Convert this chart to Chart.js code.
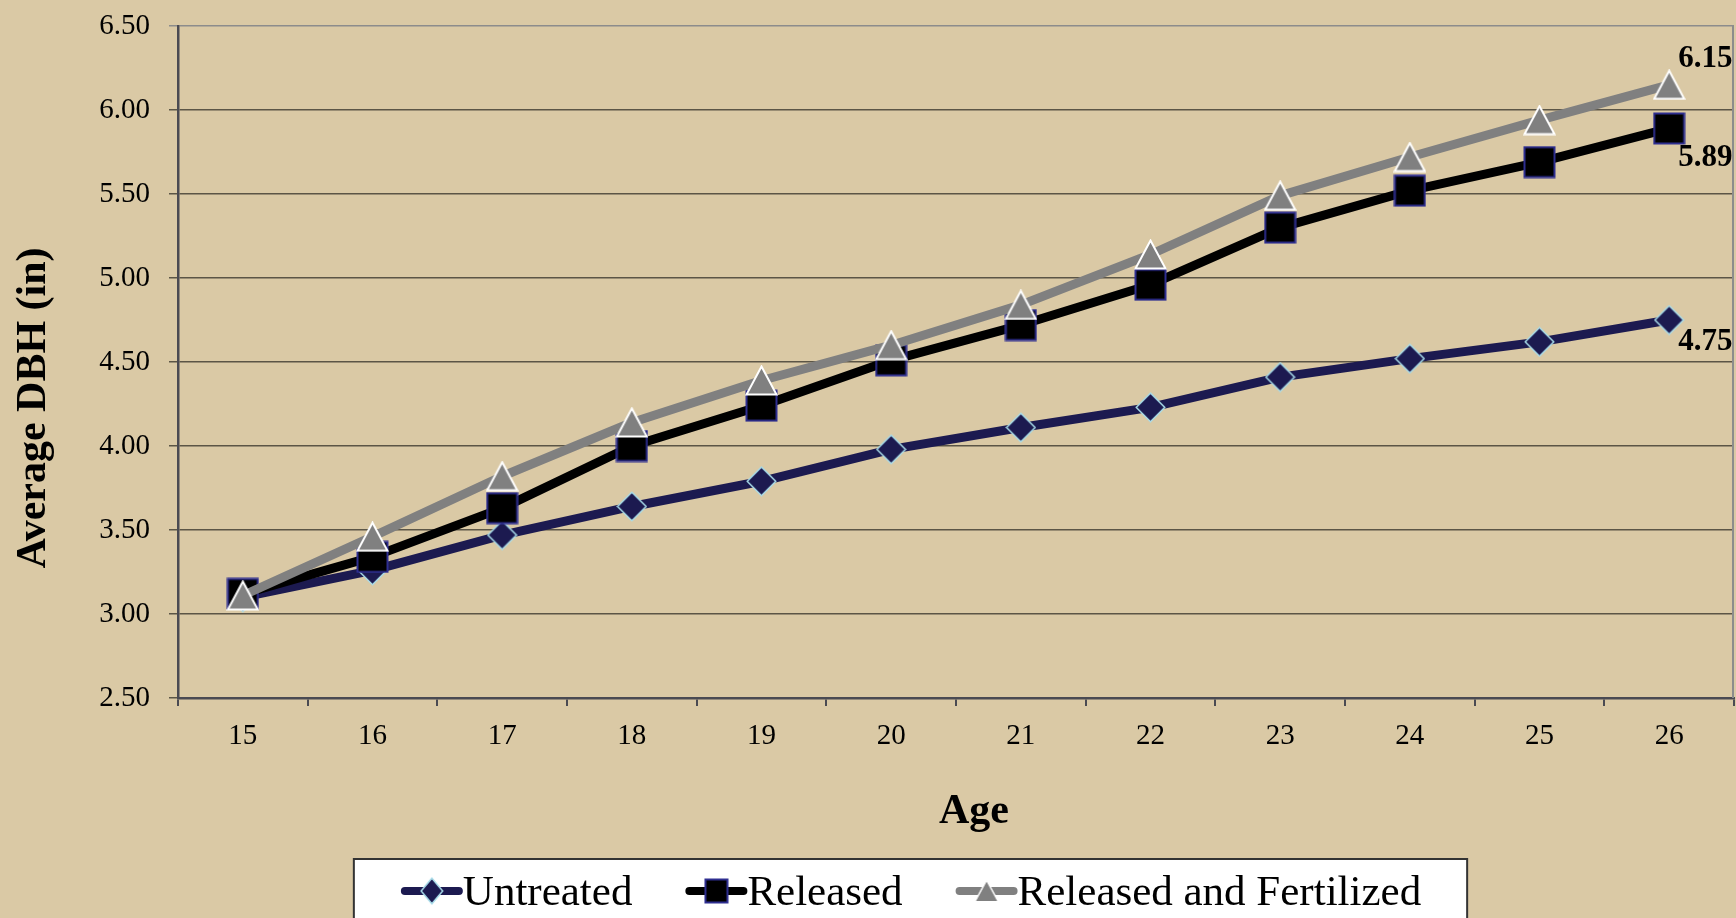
<!DOCTYPE html>
<html>
<head>
<meta charset="utf-8">
<title>Average DBH by Age</title>
<script src="https://cdn.jsdelivr.net/npm/chart.js@4/dist/chart.umd.min.js"></script>
<style>
  html, body { margin: 0; padding: 0; background: #dac9a5; }
  #wrap { width: 1736px; height: 918px; }
</style>
</head>
<body>
<div id="wrap"><canvas id="dbhChart" width="1736" height="918"></canvas></div>
<script>
// data
const ages = ['15', '16', '17', '18', '19', '20', '21', '22', '23', '24', '25', '26'];
const untreated = [3.10, 3.26, 3.47, 3.64, 3.79, 3.98, 4.11, 4.23, 4.41, 4.52, 4.62, 4.75];
const released = [3.12, 3.34, 3.63, 4.00, 4.24, 4.51, 4.72, 4.96, 5.30, 5.52, 5.69, 5.89];
const releasedFertilized = [3.11, 3.46, 3.82, 4.14, 4.39, 4.60, 4.84, 5.14, 5.49, 5.72, 5.94, 6.15];
const seriesNames = ['Untreated', 'Released', 'Released and Fertilized'];
const yMin = 2.5;
const yMax = 6.5;
const yStep = 0.5;
const xTitle = 'Age';
const yTitle = 'Average DBH (in)';

const SERIF = "'Liberation Serif', 'Times New Roman', serif";

// excel-like marker images
function makeMarker(shape, w, h, fill, stroke, lw) {
  const c = document.createElement('canvas');
  c.width = w;
  c.height = h;
  const g = c.getContext('2d');
  const m = lw / 2 + 0.5;
  g.beginPath();
  if (shape === 'diamond') {
    g.moveTo(w / 2, m);
    g.lineTo(w - m, h / 2);
    g.lineTo(w / 2, h - m);
    g.lineTo(m, h / 2);
  } else if (shape === 'square') {
    g.rect(m, m, w - 2 * m, h - 2 * m);
  } else {
    g.moveTo(w / 2, m);
    g.lineTo(w - m, h - m);
    g.lineTo(m, h - m);
  }
  g.closePath();
  g.fillStyle = fill;
  g.fill();
  g.lineWidth = lw;
  g.strokeStyle = stroke;
  g.stroke();
  return c;
}

const NAVY = '#1c1a50';
const GREY = '#808080';

const markers = [
  makeMarker('diamond', 31, 31, NAVY, '#a8dcea', 1.5),
  makeMarker('square', 33, 33, '#000000', '#2e2e90', 2),
  makeMarker('triangle', 33, 31, GREY, '#ffffff', 2)
];
const legendMarkers = [
  makeMarker('diamond', 24, 28, NAVY, '#a8dcea', 1.5),
  makeMarker('square', 25, 26, '#000000', '#2e2e90', 2),
  makeMarker('triangle', 26, 24, GREY, '#ffffff', 1.5)
];

const decorations = {
  id: 'decorations',
  beforeDatasetsDraw(chart) {
    const { ctx, chartArea: a } = chart;
    ctx.save();
    ctx.strokeStyle = '#8c8c8c';
    ctx.lineWidth = 2;
    ctx.beginPath();
    ctx.moveTo(a.right - 1, a.top);
    ctx.lineTo(a.right - 1, a.bottom);
    ctx.stroke();
    ctx.restore();
  },
  afterDatasetsDraw(chart) {
    const { ctx } = chart;
    ctx.save();
    ctx.font = 'bold 31px ' + SERIF;
    ctx.fillStyle = '#000';
    ctx.textAlign = 'left';
    ctx.textBaseline = 'middle';
    chart.data.datasets.forEach((ds, i) => {
      const meta = chart.getDatasetMeta(i);
      const pt = meta.data[meta.data.length - 1];
      const v = ds.data[ds.data.length - 1];
      ctx.fillText(v.toFixed(2), pt.x + 9, pt.y + ds.endLabelDy);
    });
    ctx.restore();
  },
  afterDraw(chart) {
    const { ctx, chartArea: a } = chart;
    ctx.save();
    ctx.fillStyle = '#000';

    // axis titles
    ctx.font = 'bold 42px ' + SERIF;
    ctx.textAlign = 'center';
    ctx.textBaseline = 'alphabetic';
    ctx.fillText(xTitle, (a.left + a.right) / 2 + 18, a.bottom + 125);
    ctx.save();
    ctx.translate(45, (a.top + a.bottom) / 2 + 46);
    ctx.rotate(-Math.PI / 2);
    ctx.fillText(yTitle, 0, 0);
    ctx.restore();

    // legend
    ctx.font = '43px ' + SERIF;
    const sample = 62, gap = 53;
    const items = chart.data.datasets.map((ds, i) => ({
      ds, i, tw: ctx.measureText(ds.label).width
    }));
    const total = items.reduce((s, it) => s + sample + it.tw, 0) + gap * (items.length - 1);
    const cx = (a.left + a.right) / 2 - 45;
    let x = cx - total / 2;
    const boxL = x - 47, boxR = x + total + 46, boxT = a.bottom + 161;
    ctx.fillStyle = '#ffffff';
    ctx.fillRect(boxL, boxT, boxR - boxL, chart.height - boxT + 5);
    ctx.strokeStyle = '#333333';
    ctx.lineWidth = 2;
    ctx.strokeRect(boxL, boxT, boxR - boxL, chart.height - boxT + 5);

    const ly = boxT + 32;
    items.forEach(it => {
      ctx.strokeStyle = it.ds.borderColor;
      ctx.lineWidth = 8;
      ctx.lineCap = 'round';
      ctx.beginPath();
      ctx.moveTo(x + 4, ly);
      ctx.lineTo(x + sample - 4, ly);
      ctx.stroke();
      const mk = legendMarkers[it.i];
      ctx.drawImage(mk, x + sample / 2 - mk.width / 2, ly - mk.height / 2);
      ctx.fillStyle = '#000';
      ctx.textAlign = 'left';
      ctx.textBaseline = 'alphabetic';
      ctx.fillText(it.ds.label, x + sample, ly + 14);
      x += sample + it.tw + gap;
    });
    ctx.restore();
  }
};

new Chart(document.getElementById('dbhChart'), {
  type: 'line',
  data: {
    labels: ages,
    datasets: [
      {
        label: seriesNames[0],
        data: untreated,
        borderColor: NAVY,
        borderWidth: 9,
        pointStyle: markers[0],
        pointRadius: 15,
        order: 3,
        endLabelDy: 22
      },
      {
        label: seriesNames[1],
        data: released,
        borderColor: '#000000',
        borderWidth: 9,
        pointStyle: markers[1],
        pointRadius: 15,
        order: 2,
        endLabelDy: 30
      },
      {
        label: seriesNames[2],
        data: releasedFertilized,
        borderColor: GREY,
        borderWidth: 9,
        pointStyle: markers[2],
        pointRadius: 15,
        order: 1,
        endLabelDy: -26
      }
    ]
  },
  options: {
    responsive: false,
    animation: false,
    devicePixelRatio: 1,
    layout: { autoPadding: false, padding: { top: 26, right: 2, bottom: 0, left: 0 } },
    elements: {
      line: { tension: 0, borderJoinStyle: 'round', borderCapStyle: 'round', fill: false }
    },
    plugins: {
      legend: { display: false },
      tooltip: { enabled: false }
    },
    scales: {
      x: {
        offset: true,
        grid: {
          offset: true,
          drawOnChartArea: false,
          drawTicks: true,
          tickLength: 8,
          color: '#4a4a52',
          lineWidth: 2
        },
        border: { display: true, color: '#4a4a52', width: 2.5 },
        ticks: {
          color: '#000',
          padding: 13,
          font: { family: SERIF, size: 29 }
        },
        afterFit(s) {
          s.height = 220;
          s.paddingLeft = 0;
          s.paddingRight = 0;
        }
      },
      y: {
        min: yMin,
        max: yMax,
        grid: {
          color: c => (c.tick && c.tick.value === yMax ? '#8c8c8c' : '#5b5546'),
          lineWidth: 1.5,
          tickLength: 9
        },
        border: { display: true, color: '#4a4a52', width: 2.5 },
        ticks: {
          stepSize: yStep,
          color: '#000',
          padding: 19,
          font: { family: SERIF, size: 29 },
          callback: v => Number(v).toFixed(2)
        },
        afterFit(s) {
          s.width = 178;
          s.paddingTop = 0;
          s.paddingBottom = 0;
        }
      }
    }
  },
  plugins: [decorations]
});
</script>
</body>
</html>
